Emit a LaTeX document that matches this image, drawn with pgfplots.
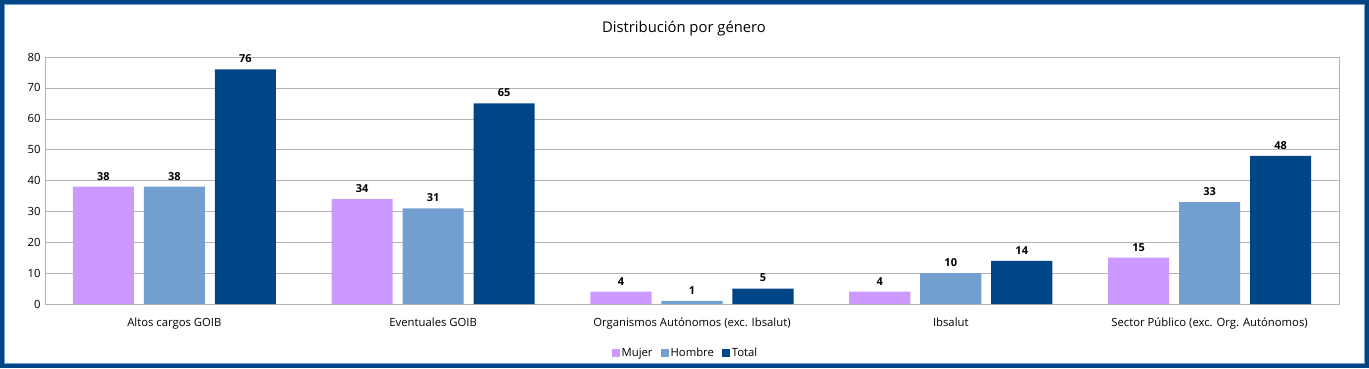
\documentclass[border=0pt]{standalone}
\usepackage{pgfplots}
\pgfplotsset{compat=1.18}
\usepackage{fontspec}
\setmainfont{Open Sans}
\definecolor{cMujer}{HTML}{CC99FF}
\definecolor{cHombre}{HTML}{729FCF}
\definecolor{cTotal}{HTML}{004586}
\definecolor{gridgray}{HTML}{B3B3B3}
\begin{document}
\begin{tikzpicture}
\fill[white] (0pt,0pt) rectangle (1369pt,368pt);
\begin{axis}[
  at={(45pt,64pt)}, anchor=south west,
  width=1294pt, height=247pt, scale only axis,
  ybar, ymin=0, ymax=80, ytick={0,10,...,80},
  xmin=-0.5, xmax=4.5, xtick={0,1,2,3,4},
  xticklabels={Altos cargos GOIB, Eventuales GOIB, Organismos Autónomos (exc. Ibsalut), Ibsalut, Sector Público (exc. Org. Autónomos)},
  major tick length=0pt,
  axis line style={gridgray},
  ymajorgrids, grid style={gridgray},
  tick label style={font=\fontsize{11.3}{13}\selectfont, black},
  /pgf/number format/assume math mode=true,
  yticklabel style={xshift=-1pt},
  xticklabel style={yshift=-10pt},
  bar width=0.236,
  nodes near coords,
  every node near coord/.append style={font=\fontsize{11}{13}\selectfont\bfseries, black, yshift=3pt},
  title={Distribución por género},
  title style={font=\fontsize{14.8}{17}\selectfont, yshift=11pt, xshift=-8pt},
  legend style={at={(0.495,-0.198)}, anchor=center, draw=none, fill=none,
    legend columns=3, font=\fontsize{11.3}{13}\selectfont,
    /tikz/every even column/.append style={column sep=6pt}},
  legend image code/.code={\fill[#1] (0pt,-4pt) rectangle (8pt,4pt);},
]
\addplot[fill=cMujer, draw=none, bar shift=-0.2743] coordinates {(0,38) (1,34) (2,4) (3,4) (4,15)};
\addplot[fill=cHombre, draw=none, bar shift=0] coordinates {(0,38) (1,31) (2,1) (3,10) (4,33)};
\addplot[fill=cTotal, draw=none, bar shift=0.2743] coordinates {(0,76) (1,65) (2,5) (3,14) (4,48)};
\legend{Mujer, Hombre, Total}
\end{axis}
\draw[cTotal, line width=4pt] (2pt,2pt) rectangle (1367pt,366pt);
\draw[cHombre, line width=0.8pt] (4.4pt,4.4pt) rectangle (1364.6pt,363.6pt);
\end{tikzpicture}
\end{document}
